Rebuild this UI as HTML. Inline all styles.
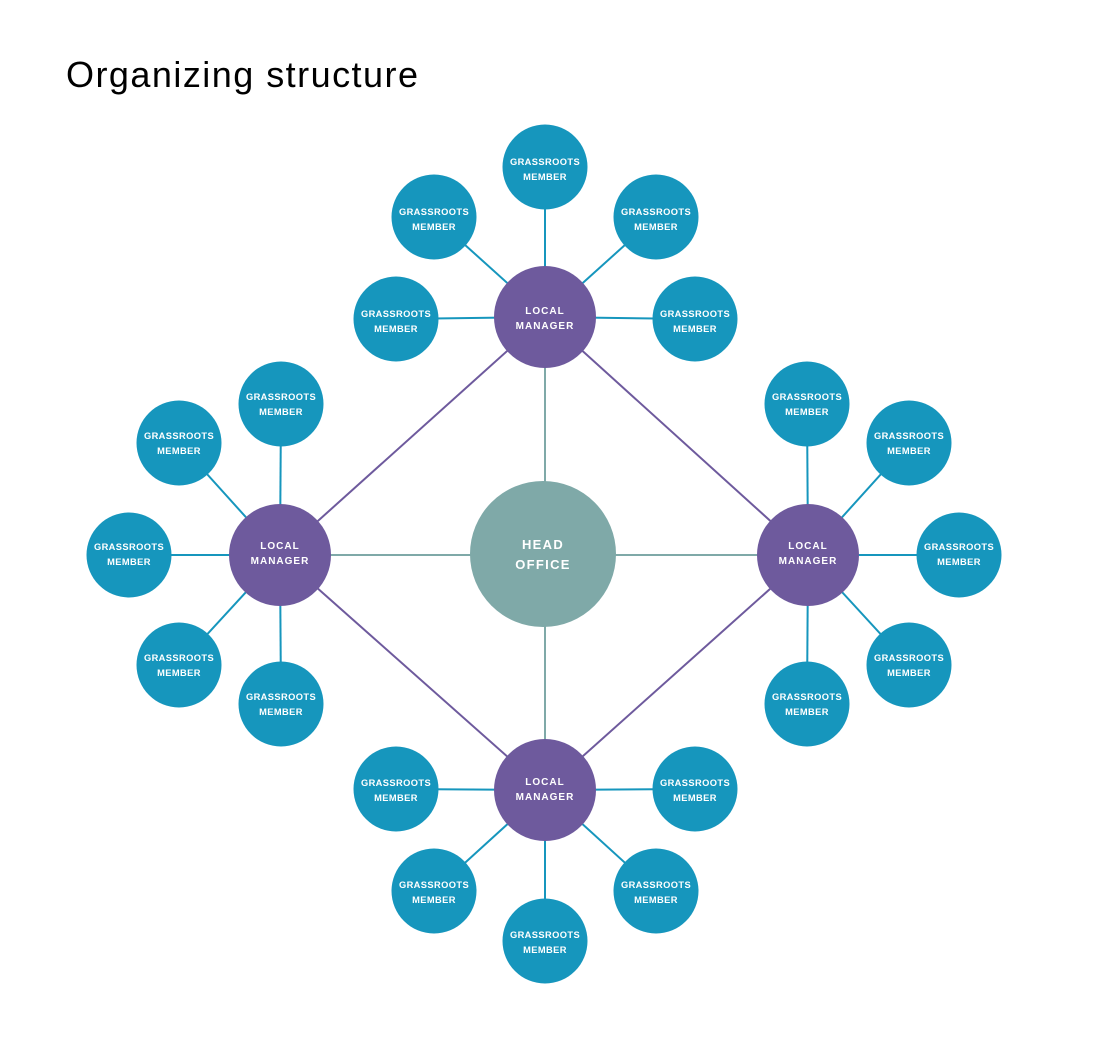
<!DOCTYPE html>
<html><head><meta charset="utf-8"><style>
html,body{margin:0;padding:0;background:#fff;}
svg{display:block;}
text{font-family:"Liberation Sans",sans-serif;font-weight:bold;fill:#fff;text-anchor:middle;}
.m{font-size:9.3px;letter-spacing:0.4px;}
.l{font-size:10px;letter-spacing:1px;}
</style></head><body>
<svg width="1099" height="1051" viewBox="0 0 1099 1051">
<text x="66" y="87" style="font-size:36px;font-weight:normal;fill:#000;text-anchor:start" textLength="352">Organizing structure</text>
<g id="lines">
<!-- head lines -->
<g stroke="#7fa9a8" stroke-width="2">
<line x1="545" y1="317" x2="545" y2="554"/><line x1="545" y1="554" x2="545" y2="790"/>
<line x1="280" y1="555" x2="808" y2="555"/>
</g>
<g stroke="#6e5a9d" stroke-width="2">
<line x1="545" y1="317" x2="280" y2="555"/><line x1="545" y1="317" x2="808" y2="555"/>
<line x1="545" y1="790" x2="280" y2="555"/><line x1="545" y1="790" x2="808" y2="555"/>
</g>
<g stroke="#1696bd" stroke-width="2">
<line x1="545" y1="317" x2="545" y2="167"/><line x1="545" y1="317" x2="434" y2="217"/><line x1="545" y1="317" x2="656" y2="217"/><line x1="545" y1="317" x2="396" y2="319"/><line x1="545" y1="317" x2="695" y2="319"/>
<line x1="280" y1="555" x2="281" y2="404"/><line x1="280" y1="555" x2="179" y2="443"/><line x1="280" y1="555" x2="129" y2="555"/><line x1="280" y1="555" x2="179" y2="665"/><line x1="280" y1="555" x2="281" y2="704"/>
<line x1="808" y1="555" x2="807" y2="404"/><line x1="808" y1="555" x2="909" y2="443"/><line x1="808" y1="555" x2="959" y2="555"/><line x1="808" y1="555" x2="909" y2="665"/><line x1="808" y1="555" x2="807" y2="704"/>
<line x1="545" y1="790" x2="396" y2="789"/><line x1="545" y1="790" x2="695" y2="789"/><line x1="545" y1="790" x2="434" y2="891"/><line x1="545" y1="790" x2="656" y2="891"/><line x1="545" y1="790" x2="545" y2="941"/>
</g>
</g>
<circle cx="543" cy="554" r="73" fill="#7fa9a8"/>
<text x="543" y="549" style="font-size:13px;letter-spacing:1.3px">HEAD</text>
<text x="543" y="569" style="font-size:13px;letter-spacing:1.3px">OFFICE</text>
<g fill="#6e5a9d">
<circle cx="545" cy="317" r="51"/><circle cx="280" cy="555" r="51"/><circle cx="808" cy="555" r="51"/><circle cx="545" cy="790" r="51"/>
</g>
<g class="l">
<text x="545" y="314">LOCAL</text><text x="545" y="329">MANAGER</text>
<text x="280" y="549">LOCAL</text><text x="280" y="564">MANAGER</text>
<text x="808" y="549">LOCAL</text><text x="808" y="564">MANAGER</text>
<text x="545" y="785">LOCAL</text><text x="545" y="800">MANAGER</text>
</g>
<g fill="#1696bd">
<circle cx="545" cy="167" r="42.5"/><circle cx="434" cy="217" r="42.5"/><circle cx="656" cy="217" r="42.5"/><circle cx="396" cy="319" r="42.5"/><circle cx="695" cy="319" r="42.5"/>
<circle cx="281" cy="404" r="42.5"/><circle cx="179" cy="443" r="42.5"/><circle cx="129" cy="555" r="42.5"/><circle cx="179" cy="665" r="42.5"/><circle cx="281" cy="704" r="42.5"/>
<circle cx="807" cy="404" r="42.5"/><circle cx="909" cy="443" r="42.5"/><circle cx="959" cy="555" r="42.5"/><circle cx="909" cy="665" r="42.5"/><circle cx="807" cy="704" r="42.5"/>
<circle cx="396" cy="789" r="42.5"/><circle cx="695" cy="789" r="42.5"/><circle cx="434" cy="891" r="42.5"/><circle cx="656" cy="891" r="42.5"/><circle cx="545" cy="941" r="42.5"/>
</g>
<g class="m">
<text x="545" y="165">GRASSROOTS</text><text x="545" y="180">MEMBER</text>
<text x="434" y="215">GRASSROOTS</text><text x="434" y="230">MEMBER</text>
<text x="656" y="215">GRASSROOTS</text><text x="656" y="230">MEMBER</text>
<text x="396" y="317">GRASSROOTS</text><text x="396" y="332">MEMBER</text>
<text x="695" y="317">GRASSROOTS</text><text x="695" y="332">MEMBER</text>
<text x="281" y="400">GRASSROOTS</text><text x="281" y="415">MEMBER</text>
<text x="179" y="439">GRASSROOTS</text><text x="179" y="454">MEMBER</text>
<text x="129" y="550">GRASSROOTS</text><text x="129" y="565">MEMBER</text>
<text x="179" y="661">GRASSROOTS</text><text x="179" y="676">MEMBER</text>
<text x="281" y="700">GRASSROOTS</text><text x="281" y="715">MEMBER</text>
<text x="807" y="400">GRASSROOTS</text><text x="807" y="415">MEMBER</text>
<text x="909" y="439">GRASSROOTS</text><text x="909" y="454">MEMBER</text>
<text x="959" y="550">GRASSROOTS</text><text x="959" y="565">MEMBER</text>
<text x="909" y="661">GRASSROOTS</text><text x="909" y="676">MEMBER</text>
<text x="807" y="700">GRASSROOTS</text><text x="807" y="715">MEMBER</text>
<text x="396" y="786">GRASSROOTS</text><text x="396" y="801">MEMBER</text>
<text x="695" y="786">GRASSROOTS</text><text x="695" y="801">MEMBER</text>
<text x="434" y="888">GRASSROOTS</text><text x="434" y="903">MEMBER</text>
<text x="656" y="888">GRASSROOTS</text><text x="656" y="903">MEMBER</text>
<text x="545" y="938">GRASSROOTS</text><text x="545" y="953">MEMBER</text>
</g>
</svg>
</body></html>
